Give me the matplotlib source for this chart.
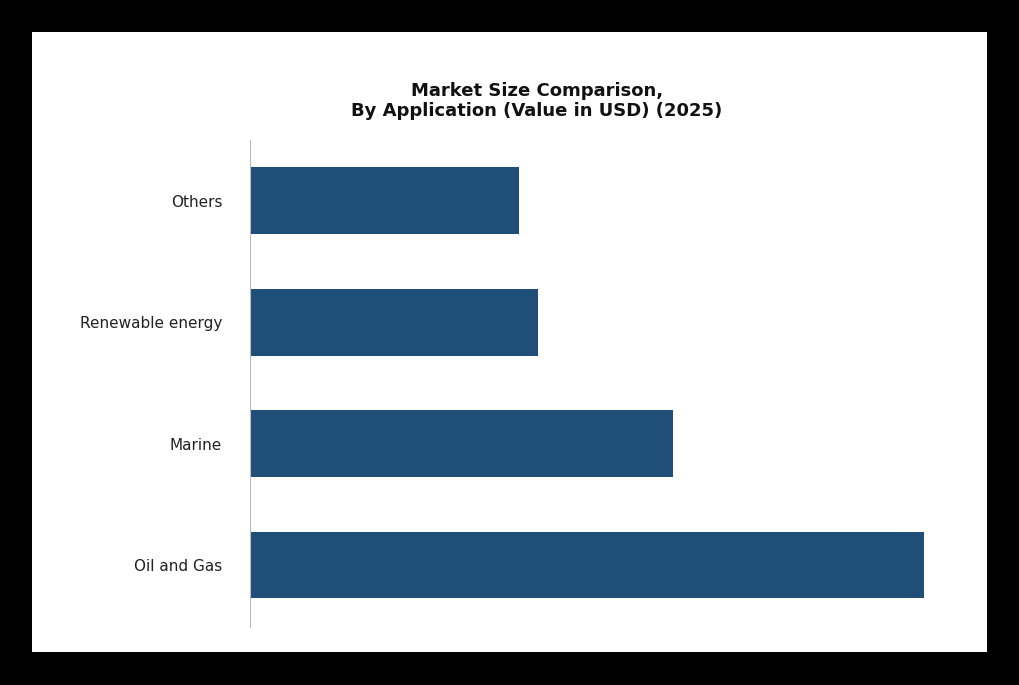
import matplotlib
matplotlib.use("Agg")
import matplotlib.pyplot as plt

categories = ["Oil and Gas", "Marine", "Renewable energy", "Others"]
values = [674, 423, 288, 269]

fig = plt.figure(figsize=(10.19, 6.85), dpi=100, facecolor="black")
bg = fig.add_axes([32/1019, 1-652/685, (987-32)/1019, (652-32)/685], zorder=0)
bg.set_facecolor("white")
bg.set_xticks([]); bg.set_yticks([])
for s in bg.spines.values():
    s.set_visible(False)

ax = fig.add_axes([250/1019, 1-627/685, (924-250)/1019, (627-140)/685], zorder=2)
ax.set_facecolor("none")
ax.barh(range(len(categories)), values, height=0.55, color="#1f4e79")
ax.set_yticks(range(len(categories)))
ax.set_yticklabels(categories, fontsize=11, color="#222222")
ax.set_xlim(0, 674)
ax.set_ylim(-0.51, 3.5)
ax.set_xticks([])
for s in ["top", "right", "bottom"]:
    ax.spines[s].set_visible(False)
ax.spines["left"].set_color("#bbbbbb")
ax.tick_params(axis="y", length=0, pad=20)
fig.text(537/1019, 1-101/685, "Market Size Comparison,\nBy Application (Value in USD) (2025)",
         ha="center", va="center", fontsize=13, fontweight="bold", color="#111111", linespacing=1.2)
fig.savefig("out.png", dpi=100, facecolor="black")
